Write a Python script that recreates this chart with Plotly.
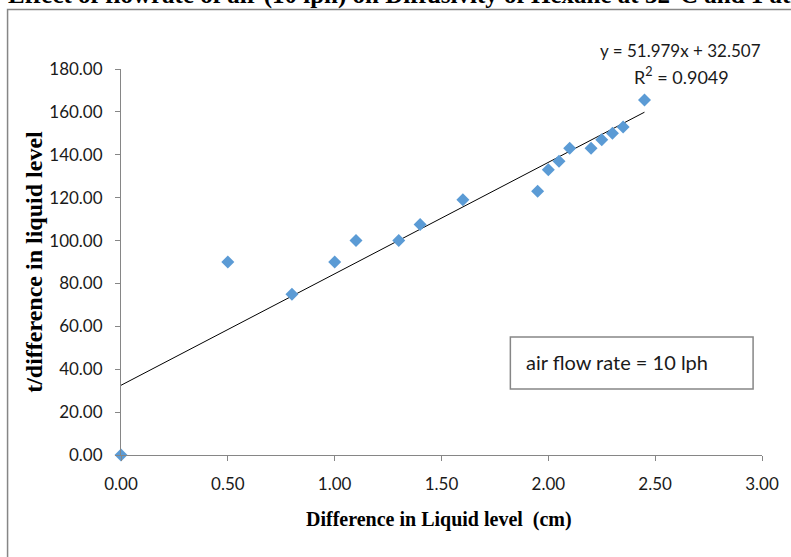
import plotly.graph_objects as go

# ---- data ----
x_level = [0.0, 0.5, 0.8, 1.0, 1.1, 1.3, 1.4, 1.6, 1.95, 2.0, 2.05, 2.1, 2.2, 2.25, 2.3, 2.35, 2.45]
y_ratio = [0.0, 90, 75, 90, 100, 100, 107.5, 119, 123, 133, 137, 143, 143, 147, 150, 153, 165.5]
trend_slope = 51.979
trend_intercept = 32.507
trend_r2 = 0.9049
x_ticks = [0, 0.5, 1.0, 1.5, 2.0, 2.5, 3.0]
y_ticks = [0, 20, 40, 60, 80, 100, 120, 140, 160, 180]

title_text = "Effect of flowrate of air (10 lph) on Diffusivity of Hexane at 32°C and 1 atm"
x_title = "Difference in Liquid level  (cm)"
y_title = "t/difference in liquid level"
label_text = "air flow rate = 10 lph"

# ---- geometry (pixels) ----
W, H = 791, 557
L, R, T, B = 121, 768, 69, 455

def px(xp):
    return (xp - L) / (R - L)

def py(yp):
    return (B - yp) / (B - T)

trend_x = [0.0, max(x_level)]
trend_y = [trend_slope * v + trend_intercept for v in trend_x]

fig = go.Figure()
fig.add_trace(go.Scatter(
    x=trend_x, y=trend_y, mode="lines",
    line=dict(color="black", width=1), showlegend=False, hoverinfo="skip"))
fig.add_trace(go.Scatter(
    x=x_level, y=y_ratio, mode="markers",
    marker=dict(symbol="diamond", size=10, color="#5B9BD5", line=dict(width=0)),
    cliponaxis=False, showlegend=False))

axis_common = dict(showgrid=False, zeroline=False, showline=True, linecolor="#868686",
                   linewidth=1, ticks="outside", ticklen=5, tickcolor="#868686",
                   tickfont=dict(family="Lato", size=17, color="#1a1a1a"))

fig.update_layout(
    width=W, height=H,
    margin=dict(l=L, r=W - R, t=T, b=H - B, pad=0),
    paper_bgcolor="white", plot_bgcolor="white",
    xaxis=dict(range=[0, 3], tickvals=x_ticks, tickformat=".2f", ticklabelstandoff=9, **axis_common),
    yaxis=dict(range=[0, 180], tickvals=y_ticks, tickformat=".2f", ticklabelstandoff=9, **axis_common),
    shapes=[
        dict(type="rect", xref="paper", yref="paper",
             x0=px(6.5), x1=px(840), y0=py(9.5), y1=py(600),
             line=dict(color="#868686", width=1.5), fillcolor="rgba(0,0,0,0)", layer="below"),
        dict(type="rect", xref="paper", yref="paper",
             x0=px(514), x1=px(759), y0=py(337), y1=py(389),
             line=dict(color="#868686", width=1.5), fillcolor="white"),
    ],
    annotations=[
        dict(text="<b>" + title_text + "</b>", xref="paper", yref="paper",
             x=px(5), y=py(-5), xanchor="left", yanchor="middle", showarrow=False,
             font=dict(family="Liberation Serif", size=25, color="black")),
        dict(text="<b>" + x_title + "</b>", xref="paper", yref="paper",
             x=px(442), y=py(519), xanchor="center", yanchor="middle", showarrow=False,
             font=dict(family="Liberation Serif", size=20, color="black")),
        dict(text="<b>" + y_title + "</b>", xref="paper", yref="paper",
             x=px(33), y=py(262), xanchor="center", yanchor="middle", showarrow=False,
             textangle=-90,
             font=dict(family="Liberation Serif", size=24, color="black")),
        dict(text=f"y = {trend_slope}x + {trend_intercept}", xref="paper", yref="paper",
             x=px(686), y=py(50), xanchor="center", yanchor="middle", showarrow=False,
             font=dict(family="Lato", size=17, color="#1a1a1a")),
        dict(text=f"R<sup>2</sup> = {trend_r2}", xref="paper", yref="paper",
             x=px(687), y=py(76), xanchor="center", yanchor="middle", showarrow=False,
             font=dict(family="Lato", size=18, color="#1a1a1a")),
        dict(text=label_text, xref="paper", yref="paper",
             x=px(528), y=py(362), xanchor="left", yanchor="middle", showarrow=False,
             font=dict(family="Lato", size=20, color="#1a1a1a")),
    ],
)

fig.write_html("out.html", config={"displayModeBar": False})

# remove the default page margin so the figure sits at the window's top-left corner
with open("out.html", "r", encoding="utf-8") as f:
    html = f.read()
html = html.replace("<head>", "<head><style>html,body{margin:0;padding:0;overflow:hidden;}</style>", 1)
with open("out.html", "w", encoding="utf-8") as f:
    f.write(html)
